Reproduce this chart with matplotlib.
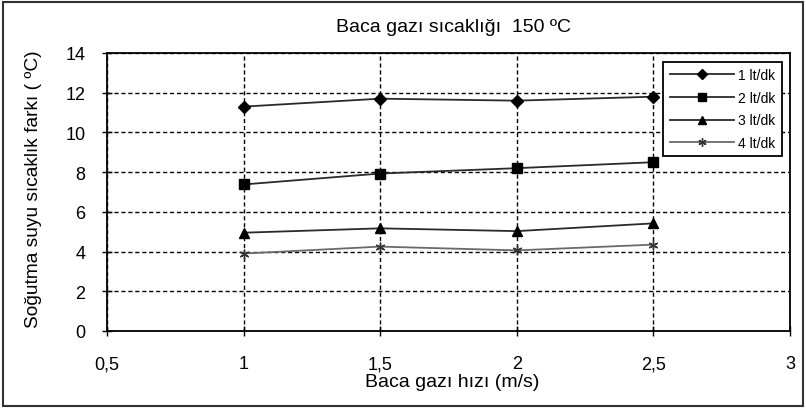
import matplotlib
matplotlib.use("Agg")
import matplotlib.pyplot as plt
from matplotlib.patches import Rectangle

plt.rcParams['font.family'] = ['Liberation Sans', 'DejaVu Sans']

x = [1, 1.5, 2, 2.5]
s1 = [11.3, 11.7, 11.6, 11.8]
s2 = [7.38, 7.93, 8.2, 8.5]
s3 = [4.95, 5.17, 5.03, 5.42]
s4 = [3.9, 4.25, 4.06, 4.35]
labels = ['1 lt/dk', '2 lt/dk', '3 lt/dk', '4 lt/dk']
xticks = [0.5, 1, 1.5, 2, 2.5, 3]
xticklabels = ['0,5', '1', '1,5', '2', '2,5', '3']
yticks = [0, 2, 4, 6, 8, 10, 12, 14]

W, H = 806, 410
fig = plt.figure(figsize=(W/100, H/100), dpi=100)
ax = fig.add_axes([107/W, 1-332/H, (790-107)/W, (332-54)/H])

ax.plot(x, s1, color='#2a2a2a', lw=1.3, marker='D', ms=6.5, mfc='black', mec='black', label=labels[0])
ax.plot(x, s2, color='#2a2a2a', lw=1.3, marker='s', ms=6.5, mfc='black', mec='black', label=labels[1])
ax.plot(x, s3, color='#2a2a2a', lw=1.3, marker='^', ms=6.5, mfc='black', mec='black', label=labels[2])
ax.plot(x, s4, color='#6a6a6a', lw=1.3, marker=(6, 2, 0), ms=7, mew=1, mec='#333333', label=labels[3])

ax.set_xlim(0.5, 3)
ax.set_ylim(0, 14)
ax.set_xticks(xticks)
ax.set_xticklabels(xticklabels)
ax.set_yticks(yticks)
ax.grid(True, color='black', linestyle=(0, (3, 2)), linewidth=1)
ax.tick_params(direction='inout', length=7, width=1, labelsize=13)
ax.tick_params(axis='x', pad=14)
ax.tick_params(axis='y', pad=12)
for sp in ax.spines.values():
    sp.set_linewidth(1.3)
    sp.set_color('black')

fig.text(452/W, 1-383/H, 'Baca gazı hızı (m/s)', ha='center', va='center', fontsize=14)
fig.text(34/W, 1-189/H, 'Soğutma suyu sıcaklık farkı ( ºC)', ha='center', va='center',
         rotation=90, fontsize=13.8)
fig.text(453/W, 1-27/H, 'Baca gazı sıcaklığı  150 ºC', ha='center', va='center', fontsize=14)

leg = ax.legend(loc='upper right', bbox_to_anchor=(1-8/683, 1-9/278), fontsize=10, frameon=True,
                fancybox=False, edgecolor='black', handlelength=4.6, borderpad=0.45,
                labelspacing=0.62, handletextpad=0.35, borderaxespad=0, framealpha=1,
                markerscale=0.85)
leg.get_frame().set_linewidth(1.3)

fig.patches.append(Rectangle((3/W, 3/H), 1-6/W, 1-6/H, transform=fig.transFigure,
                             fill=False, edgecolor='#333333', linewidth=1.5))

fig.savefig('out.png', dpi=100)
